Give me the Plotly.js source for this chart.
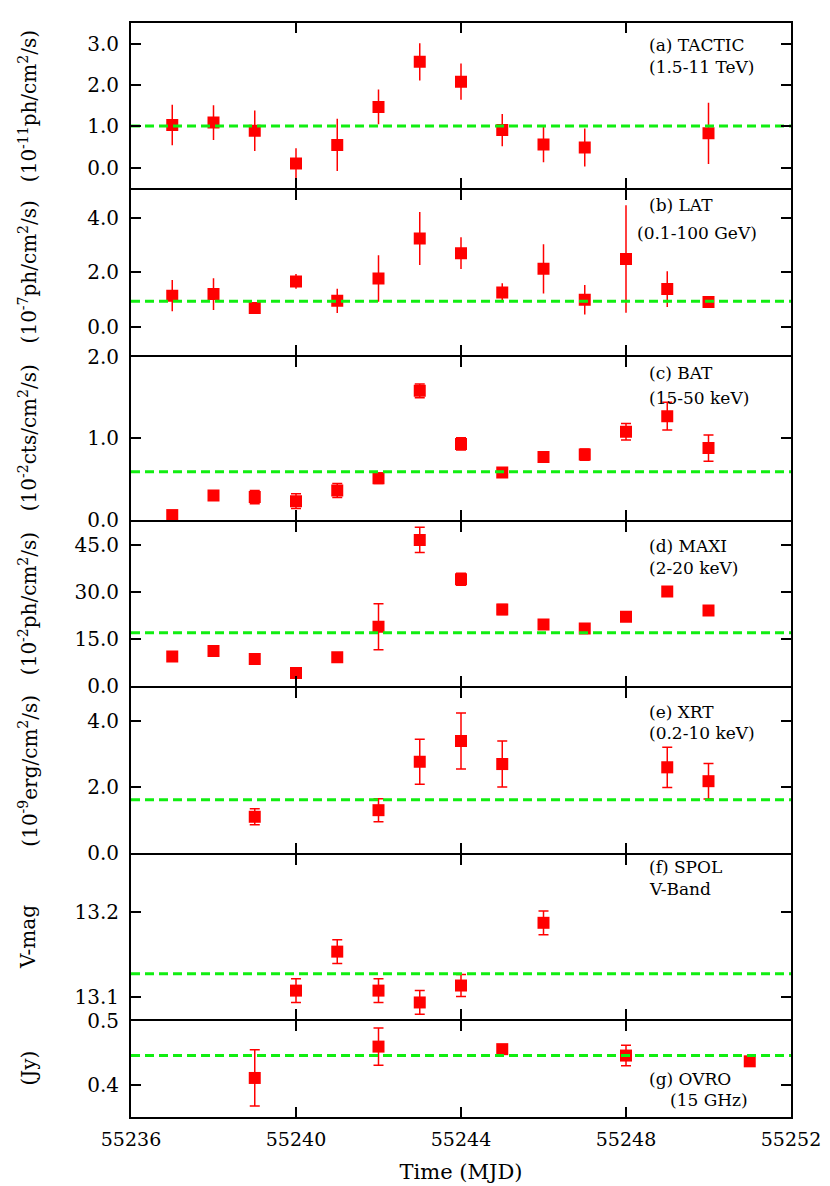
<!DOCTYPE html>
<html>
<head>
<meta charset="utf-8">
<script src="https://cdn.plot.ly/plotly-3.0.1.min.js"></script>
<style>body{margin:0;background:#fff}</style>
</head>
<body>
<div id="plotDiv" style="width:830px;height:1186px"></div>
<script>
// (a) TACTIC
var tacticX = [55237, 55238, 55239, 55240, 55241, 55242, 55243, 55244, 55245, 55246, 55247, 55250];
var tacticY = [1.03, 1.09, 0.89, 0.10, 0.55, 1.47, 2.56, 2.08, 0.91, 0.56, 0.49, 0.83];
var tacticErr = [0.49, 0.42, 0.49, 0.37, 0.63, 0.42, 0.45, 0.44, 0.39, 0.43, 0.46, 0.74];
var tacticMean = 1.01;

// (b) LAT
var latX = [55237, 55238, 55239, 55240, 55241, 55242, 55243, 55244, 55245, 55246, 55247, 55248, 55249, 55250];
var latY = [1.15, 1.21, 0.70, 1.67, 0.96, 1.78, 3.24, 2.70, 1.27, 2.13, 1.00, 2.49, 1.39, 0.92];
var latErr = [0.57, 0.58, 0.05, 0.27, 0.44, 0.85, 0.97, 0.58, 0.33, 0.90, 0.54, 1.96, 0.65, 0.10];
var latMean = 0.95;

// (c) BAT
var batX = [55237, 55238, 55239, 55240, 55241, 55242, 55243, 55244, 55245, 55246, 55247, 55248, 55249, 55250];
var batY = [0.06, 0.30, 0.28, 0.23, 0.36, 0.51, 1.58, 0.93, 0.58, 0.77, 0.80, 1.08, 1.27, 0.88];
var batErr = [0.01, 0.04, 0.08, 0.09, 0.085, 0.065, 0.085, 0.075, 0.02, 0.02, 0.07, 0.10, 0.17, 0.16];
var batMean = 0.59;

// (d) MAXI
var maxiX = [55237, 55238, 55239, 55240, 55241, 55242, 55243, 55244, 55245, 55246, 55247, 55248, 55249, 55250];
var maxiY = [9.5, 11.2, 8.7, 4.2, 9.2, 18.9, 46.5, 34.0, 24.4, 19.6, 18.4, 22.1, 30.1, 24.1];
var maxiErr = [0.5, 0.5, 0.6, 0.6, 0.8, 7.3, 4.0, 1.9, 1.6, 0.6, 0.7, 0.5, 0.5, 0.5];
var maxiMean = 17.05;

// (e) XRT
var xrtX = [55239, 55242, 55243, 55244, 55245, 55249, 55250];
var xrtY = [1.10, 1.30, 2.77, 3.40, 2.70, 2.60, 2.18];
var xrtErr = [0.24, 0.35, 0.68, 0.85, 0.70, 0.61, 0.54];
var xrtMean = 1.62;

// (f) SPOL
var spolX = [55240, 55241, 55242, 55243, 55244, 55246];
var spolY = [13.107, 13.153, 13.107, 13.093, 13.113, 13.187];
var spolErr = [0.014, 0.014, 0.014, 0.014, 0.013, 0.014];
var spolMean = 13.127;

// (g) OVRO
var ovroX = [55239, 55242, 55245, 55248, 55251];
var ovroY = [0.411, 0.460, 0.456, 0.446, 0.437];
var ovroErr = [0.044, 0.029, 0.003, 0.016, 0.003];
var ovroMean = 0.446;

var xRange = [55236, 55252];
var xTicks = [55236, 55240, 55244, 55248, 55252];

var panels = [
    {x: tacticX, y: tacticY, e: tacticErr, m: tacticMean, cap: 0, range: [-0.5, 3.5], ticks: [0, 1, 2, 3],
     title: '(10<sup>-11</sup>ph/cm<sup>2</sup>/s)', label: ['(a) TACTIC', '(1.5-11 TeV)']},
    {x: latX, y: latY, e: latErr, m: latMean, cap: 0, range: [-1, 5], ticks: [0, 2, 4],
     title: '(10<sup>-7</sup>ph/cm<sup>2</sup>/s)', label: ['(b) LAT', '(0.1-100 GeV)']},
    {x: batX, y: batY, e: batErr, m: batMean, cap: 5, range: [0, 2], ticks: [0, 1, 2],
     title: '(10<sup>-2</sup>cts/cm<sup>2</sup>/s)', label: ['(c) BAT', '(15-50 keV)']},
    {x: maxiX, y: maxiY, e: maxiErr, m: maxiMean, cap: 5, range: [0, 52.2], ticks: [0, 15, 30, 45],
     title: '(10<sup>-2</sup>ph/cm<sup>2</sup>/s)', label: ['(d) MAXI', '(2-20 keV)']},
    {x: xrtX, y: xrtY, e: xrtErr, m: xrtMean, cap: 5, range: [0, 5], ticks: [0, 2, 4],
     title: '(10<sup>-9</sup>erg/cm<sup>2</sup>/s)', label: ['(e) XRT', '(0.2-10 keV)']},
    {x: spolX, y: spolY, e: spolErr, m: spolMean, cap: 5, range: [13.0735, 13.267], ticks: [13.1, 13.2],
     title: 'V-mag', label: ['(f) SPOL', 'V-Band']},
    {x: ovroX, y: ovroY, e: ovroErr, m: ovroMean, cap: 5, range: [0.35, 0.5], ticks: [0.4, 0.5],
     title: '(Jy)', label: ['(g) OVRO', '(15 GHz)']}
];

// pixel layout of the figure
var figW = 830, figH = 1186;
var plotL = 131, plotR = 791, plotT = 23, plotB = 1117;
var borders = [23, 189.3, 355.5, 521, 687.3, 854, 1020, 1117];
var lw = 2;
// label line positions (pixel x, y of first and second line)
var labelY = [[45, 67], [205, 233], [373, 398], [546, 568], [712, 733], [867, 889], [1079, 1100]];
var labelX = [[647, 647], [647, 635], [647, 647], [647, 647], [647, 647], [647, 647], [647, 668]];

function py(p) { return (plotB - p) / (plotB - plotT); }
function px(p) { return (p - plotL) / (plotR - plotL); }

var serif = 'DejaVu Serif';
var data = [];
var annotations = [];
var layout = {
    width: figW, height: figH,
    margin: {l: plotL, r: figW - plotR, t: plotT, b: figH - plotB},
    showlegend: false,
    paper_bgcolor: 'white',
    plot_bgcolor: 'white',
    font: {family: serif, size: 20, color: 'black'}
};

panels.forEach(function (p, i) {
    var sfx = i === 0 ? '' : String(i + 1);
    var xa = 'x' + sfx, ya = 'y' + sfx;
    data.push({
        x: p.x, y: p.y, xaxis: xa, yaxis: ya,
        type: 'scatter', mode: 'markers',
        marker: {symbol: 'square', size: 12, color: '#ff0000'},
        error_y: {type: 'data', array: p.e, visible: true, color: '#ff0000', thickness: 1.5, width: p.cap}
    });
    data.push({
        x: xRange, y: [p.m, p.m], xaxis: xa, yaxis: ya,
        type: 'scatter', mode: 'lines',
        line: {color: '#11ee11', width: 3, dash: '9px,5px'}
    });

    // shrink interior edges so neighbouring axis lines land on the same pixel row
    var yTop = borders[i] + (i > 0 ? lw / 2 : 0);
    var yBot = borders[i + 1] - (i < panels.length - 1 ? lw / 2 : 0);

    var isLast = i === panels.length - 1;
    var xax = {
        domain: [0, 1], anchor: ya, range: xRange,
        tickmode: 'array', tickvals: xTicks, tickformat: 'd',
        ticks: 'inside', ticklen: 10, tickwidth: 2, tickcolor: 'black',
        showline: true, linewidth: lw, linecolor: 'black', mirror: 'ticks',
        showgrid: false, zeroline: false,
        showticklabels: isLast, ticklabelstandoff: 4,
        tickfont: {family: serif, size: 19}
    };
    if (isLast) xax.title = {text: 'Time (MJD)', font: {family: serif, size: 21}, standoff: 16};
    if (i > 0) xax.matches = 'x';
    layout['xaxis' + sfx] = xax;
    layout['yaxis' + sfx] = {
        domain: [py(yBot), py(yTop)], anchor: xa, range: p.range,
        tickmode: 'array', tickvals: p.ticks, tickformat: '.1f',
        ticks: 'inside', ticklen: 10, tickwidth: 2, tickcolor: 'black',
        showline: true, linewidth: lw, linecolor: 'black', mirror: 'ticks',
        showgrid: false, zeroline: false, ticklabelstandoff: 6,
        tickfont: {family: serif, size: 20}
    };

    annotations.push({
        xref: 'paper', yref: 'paper', x: px(28), y: py((borders[i] + borders[i + 1]) / 2),
        text: p.title, textangle: -90, showarrow: false,
        xanchor: 'center', yanchor: 'middle',
        font: {family: serif, size: 20}
    });
    p.label.forEach(function (t, k) {
        annotations.push({
            xref: 'paper', yref: 'paper', x: px(labelX[i][k]), y: py(labelY[i][k]),
            text: t, showarrow: false, xanchor: 'left', yanchor: 'middle',
            font: {family: serif, size: 17}
        });
    });
});

layout.annotations = annotations;

Plotly.newPlot('plotDiv', data, layout, {displayModeBar: false, staticPlot: true});
</script>
</body>
</html>
